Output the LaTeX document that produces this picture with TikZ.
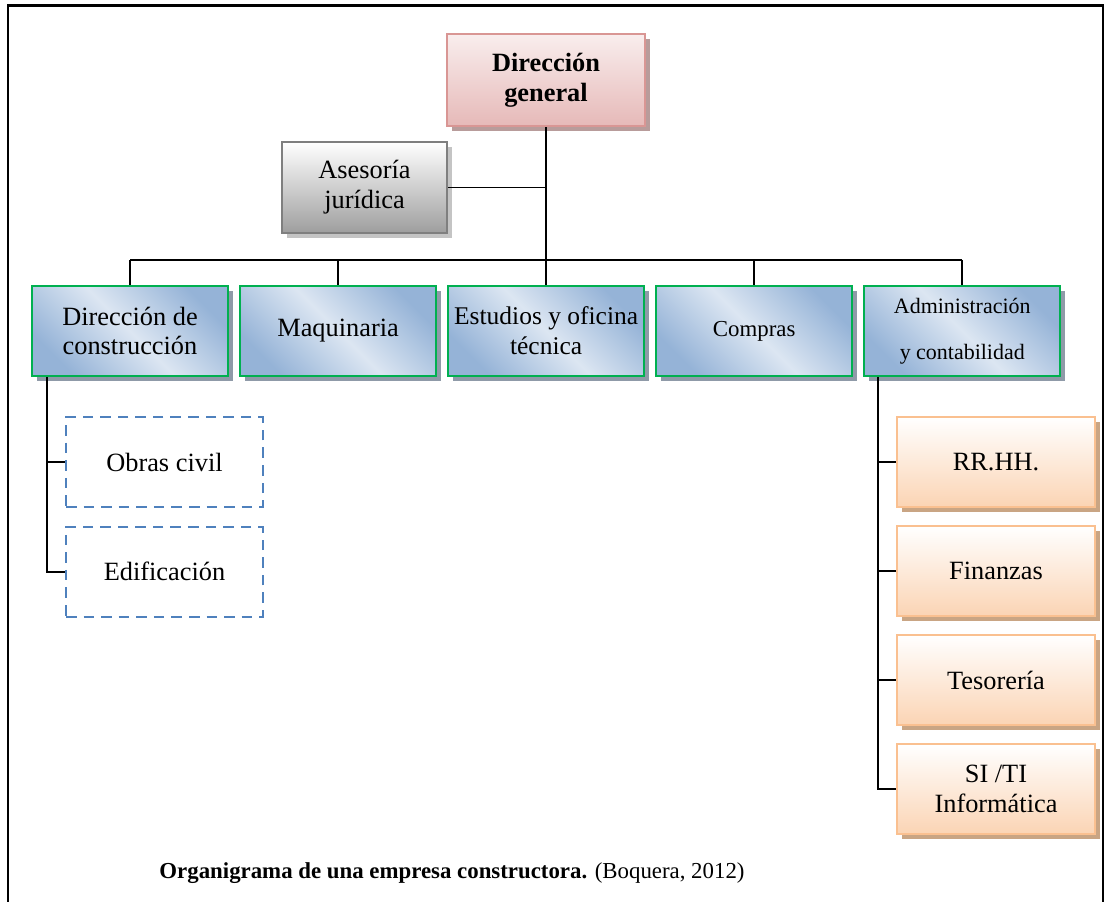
\documentclass[tikz,border=0pt]{standalone}
\usepackage{fontspec}
\setmainfont{Liberation Serif}
\usetikzlibrary{positioning,shadows}

\definecolor{rosa}{HTML}{E6B9B8}
\definecolor{rosaborde}{HTML}{D99694}
\definecolor{rosasombra}{HTML}{B89C9B}
\definecolor{gris}{HTML}{9E9E9E}
\definecolor{grisborde}{HTML}{7F7F7F}
\definecolor{grissombra}{HTML}{C4C4C4}
\definecolor{azul}{HTML}{95B3D7}
\definecolor{azulclaro}{HTML}{DCE6F2}
\definecolor{verde}{HTML}{00B050}
\definecolor{azulsombra}{HTML}{8F9AA8}
\definecolor{naranja}{HTML}{FBD4B4}
\definecolor{naranjaborde}{HTML}{FAC090}
\definecolor{naranjasombra}{HTML}{C9A584}
\definecolor{trazos}{HTML}{4F81BD}

\tikzset{
  caja/.style={rectangle,draw,align=center,inner sep=2pt,
    font=\fontsize{15}{17}\selectfont},
  jefe/.style={caja,draw=rosaborde,line width=1.2pt,top color=rosa!25,bottom color=rosa,
    minimum width=3.96cm,minimum height=1.84cm,font=\fontsize{15}{17}\selectfont\bfseries,
    drop shadow={shadow xshift=0.1cm,shadow yshift=-0.1cm,fill=rosasombra,opacity=1}},
  asesor/.style={caja,draw=grisborde,line width=1.2pt,top color=white,bottom color=gris,
    minimum width=3.3cm,minimum height=1.82cm,
    drop shadow={shadow xshift=0.1cm,shadow yshift=-0.1cm,fill=grissombra,opacity=1}},
  area/.style={caja,draw=verde,line width=1.2pt,
    left color=azul,right color=azul,middle color=azulclaro,shading angle=135,
    minimum width=3.92cm,minimum height=1.8cm,
    drop shadow={shadow xshift=0.1cm,shadow yshift=-0.1cm,fill=azulsombra,opacity=1}},
  sub/.style={caja,draw=trazos,line width=1pt,dash pattern=on 6pt off 4pt,
    minimum width=3.94cm,minimum height=1.8cm},
  subarea/.style={caja,draw=naranjaborde,line width=1.2pt,top color=white,bottom color=naranja,
    minimum width=3.96cm,minimum height=1.8cm,
    drop shadow={shadow xshift=0.1cm,shadow yshift=-0.1cm,fill=naranjasombra,opacity=1}},
  linea/.style={draw,black,line width=0.9pt}
}

\begin{document}
\begin{tikzpicture}[x=0.02cm,y=-0.02cm]
\useasboundingbox (0,0) rectangle (1106,902);
\draw[line width=1.3pt] (8,902) -- (8,5.5) -- (1103,5.5) -- (1103,902);

% cabeza
\node[jefe] (dg) at (546,80) {Direcci\'on\\general};
\node[asesor] (aj) at (364.5,187.5) {Asesor\'ia\\jur\'idica};

% areas
\node[area] (dc) at (130,331) {Direcci\'on de\\construcci\'on};
\node[area,right=0.2cm of dc] (maq) {Maquinaria};
\node[area,right=0.2cm of maq,font=\fontsize{14.5}{17}\selectfont] (est) {Estudios y oficina\\t\'ecnica};
\node[area,right=0.2cm of est,font=\fontsize{13}{15}\selectfont] (com) {Compras};
\node[area,right=0.2cm of com,font=\fontsize{12.5}{26}\selectfont] (adm) {Administraci\'on\\y contabilidad};

% bus
\coordinate (bus) at (546,260);
\draw[linea] (dg.south) -- (bus);
\draw[linea] (aj.east) -- (aj.east -| dg.south);
\draw[linea] (bus -| dc.north) -- (bus -| adm.north);
\foreach \n in {dc,maq,est,com,adm}
  \draw[linea] (bus -| \n.north) -- (\n.north);

% direccion de construccion
\node[sub] (obras) at (164.5,462) {Obras civil};
\node[sub,below=0.36cm of obras] (edif) {Edificaci\'on};
\coordinate (dcl) at ([xshift=0.32cm]dc.south west);
\draw[linea] (dcl) |- (edif.west);
\draw[linea] (dcl |- obras.west) -- (obras.west);

% administracion
\node[subarea] (rrhh) at (996,462) {RR.HH.};
\node[subarea,below=0.34cm of rrhh] (fin) {Finanzas};
\node[subarea,below=0.34cm of fin] (tes) {Tesorer\'ia};
\node[subarea,below=0.34cm of tes] (si) {SI /TI\\Inform\'atica};
\coordinate (adml) at ([xshift=0.3cm]adm.south west);
\draw[linea] (adml) |- (si.west);
\foreach \n in {rrhh,fin,tes}
  \draw[linea] (adml |- \n.west) -- (\n.west);

% pie
\node[font=\fontsize{13}{15}\selectfont] (pie) at (452,873)
  {\textbf{Organigrama de una empresa constructora.} (Boquera, 2012)};
\end{tikzpicture}
\end{document}
